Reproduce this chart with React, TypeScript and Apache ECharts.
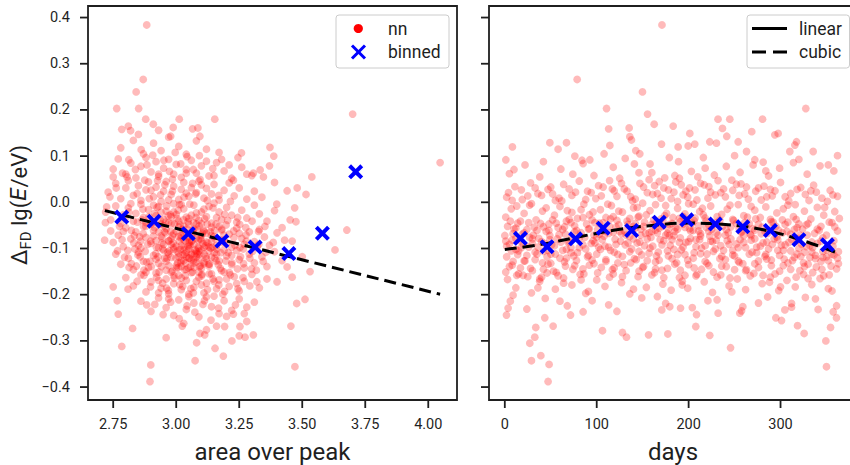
import React, { useEffect, useRef } from "react";
import * as echarts from "echarts";

// ---------- tick labels ----------
const areaTicks = [2.75, 3.0, 3.25, 3.5, 3.75, 4.0];
const dayTicks = [0, 100, 200, 300];
const devTicks = [-0.4, -0.3, -0.2, -0.1, 0, 0.1, 0.2, 0.3, 0.4];

// ---------- nn points: [area over peak, deviation] ----------
const nnArea: [number, number][] = [
  [2.78,0.118],[2.83,0.134],[2.87,0.105],[2.91,0.128],[2.94,0.112],[2.97,0.141],[3.01,0.121],[3.04,0.104],[3.08,0.133],[3.12,0.115],[2.85,0.147],[3.17,0.108],
  [2.75,0.072],[2.77,0.094],[2.80,0.061],[2.82,0.085],[2.84,0.053],[2.86,0.078],[2.88,0.097],[2.90,0.066],[2.92,0.088],[2.93,0.056],[2.95,0.074],[2.97,0.093],[2.99,0.061],[3.00,0.082],[3.02,0.054],[3.04,0.071],[3.06,0.091],[3.08,0.063],[3.10,0.079],[3.13,0.057],[3.16,0.086],[3.19,0.068],[3.22,0.052],[3.26,0.076],[3.30,0.058],
  [2.73,0.022],[2.76,0.041],[2.78,0.008],[2.80,0.031],[2.81,0.047],[2.83,0.015],[2.85,0.036],[2.86,0.004],[2.88,0.027],[2.89,0.044],[2.91,0.012],[2.92,0.033],[2.94,0.002],[2.95,0.024],[2.96,0.045],[2.98,0.017],[2.99,0.035],[3.01,0.006],[3.02,0.028],[3.03,0.043],[3.05,0.013],[3.06,0.032],[3.08,0.021],[3.09,0.046],[3.11,0.009],[3.12,0.030],[3.14,0.018],[3.15,0.039],[3.17,0.005],[3.19,0.026],[3.21,0.042],[3.23,0.014],[3.25,0.031],[3.28,0.007],[3.31,0.024],[3.34,0.011],[2.90,0.026],[2.97,0.005],[3.04,0.020],[3.10,0.038],
  [2.72,-0.021],[2.74,-0.038],[2.76,-0.008],[2.78,-0.046],[2.79,-0.027],[2.81,-0.012],[2.83,-0.041],[2.84,-0.024],[2.86,-0.004],[2.87,-0.033],[2.89,-0.016],[2.90,-0.047],[2.92,-0.029],[2.93,-0.009],[2.95,-0.037],[2.96,-0.019],[2.97,-0.044],[2.99,-0.003],[3.00,-0.026],[3.01,-0.041],[3.03,-0.014],[3.04,-0.032],[3.05,-0.048],[3.07,-0.006],[3.08,-0.023],[3.09,-0.039],[3.11,-0.015],[3.12,-0.031],[3.14,-0.045],[3.15,-0.002],[3.17,-0.021],[3.18,-0.037],[3.20,-0.011],[3.22,-0.028],[3.24,-0.043],[3.26,-0.017],[3.28,-0.034],[3.31,-0.006],[3.33,-0.025],[3.36,-0.041],[3.39,-0.018],[2.88,-0.044],[2.94,-0.022],[3.02,-0.005],[3.06,-0.028],[3.10,-0.046],[3.16,-0.033],[2.98,-0.031],[2.91,-0.006],[3.13,-0.009],
  [2.74,-0.062],[2.75,-0.087],[2.77,-0.071],[2.79,-0.096],[2.80,-0.055],[2.82,-0.079],[2.84,-0.064],[2.85,-0.093],[2.87,-0.052],[2.88,-0.076],[2.90,-0.089],[2.91,-0.061],[2.93,-0.098],[2.94,-0.073],[2.96,-0.057],[2.97,-0.084],[2.99,-0.068],[3.00,-0.095],[3.01,-0.053],[3.03,-0.081],[3.04,-0.066],[3.05,-0.092],[3.07,-0.058],[3.08,-0.077],[3.09,-0.099],[3.11,-0.063],[3.12,-0.086],[3.14,-0.054],[3.15,-0.074],[3.16,-0.094],[3.18,-0.061],[3.19,-0.083],[3.21,-0.069],[3.22,-0.097],[3.24,-0.056],[3.26,-0.078],[3.27,-0.091],[3.29,-0.064],[3.31,-0.085],[3.33,-0.059],[3.35,-0.075],[3.37,-0.093],[3.40,-0.066],[3.43,-0.082],[2.86,-0.099],[2.95,-0.051],[2.98,-0.091],[3.02,-0.072],[3.06,-0.085],[3.10,-0.072],[3.13,-0.097],[3.17,-0.052],[3.20,-0.088],[3.25,-0.067],[2.92,-0.083],
  [2.76,-0.112],[2.78,-0.134],[2.81,-0.121],[2.83,-0.146],[2.85,-0.108],[2.87,-0.128],[2.89,-0.141],[2.91,-0.115],[2.93,-0.132],[2.95,-0.104],[2.96,-0.147],[2.98,-0.119],[3.00,-0.137],[3.01,-0.110],[3.03,-0.126],[3.04,-0.145],[3.06,-0.113],[3.07,-0.131],[3.09,-0.106],[3.10,-0.143],[3.12,-0.122],[3.13,-0.138],[3.15,-0.109],[3.17,-0.127],[3.18,-0.148],[3.20,-0.116],[3.22,-0.135],[3.24,-0.104],[3.25,-0.124],[3.27,-0.142],[3.29,-0.112],[3.31,-0.131],[3.34,-0.118],[3.36,-0.139],[3.39,-0.107],[3.42,-0.126],[2.92,-0.123],[2.99,-0.102],[3.02,-0.139],[3.05,-0.121],[3.08,-0.118],[3.11,-0.129],[3.14,-0.119],[3.19,-0.103],[3.05,-0.101],
  [2.80,-0.163],[2.83,-0.181],[2.86,-0.157],[2.88,-0.194],[2.90,-0.172],[2.92,-0.153],[2.94,-0.186],[2.96,-0.166],[2.97,-0.198],[2.99,-0.176],[3.01,-0.158],[3.02,-0.189],[3.04,-0.169],[3.06,-0.152],[3.07,-0.184],[3.09,-0.163],[3.11,-0.196],[3.12,-0.175],[3.14,-0.155],[3.16,-0.187],[3.17,-0.168],[3.19,-0.151],[3.21,-0.182],[3.23,-0.161],[3.25,-0.192],[3.27,-0.171],[3.30,-0.156],[3.33,-0.185],[3.36,-0.166],[3.05,-0.199],[2.98,-0.151],[3.10,-0.179],[3.15,-0.171],[2.93,-0.169],[3.20,-0.166],
  [2.86,-0.214],[2.90,-0.236],[2.93,-0.207],[2.96,-0.228],[2.99,-0.245],[3.01,-0.211],[3.04,-0.232],[3.07,-0.218],[3.09,-0.248],[3.12,-0.205],[3.14,-0.226],[3.17,-0.241],[3.19,-0.213],[3.22,-0.234],[3.25,-0.209],[3.28,-0.227],[3.31,-0.216],[3.05,-0.204],[2.97,-0.209],[3.15,-0.203],
  [3.00,-0.063],[3.02,-0.094],[3.03,-0.052],[3.04,-0.108],[3.05,-0.075],[3.06,-0.124],[3.07,-0.091],[3.08,-0.047],[3.09,-0.113],[3.10,-0.082],[3.11,-0.133],[3.12,-0.067],[3.01,-0.118],[2.98,-0.079],[2.97,-0.112],[2.95,-0.091],[2.94,-0.047],[2.96,-0.128],[3.00,-0.142],[3.07,-0.141],[3.13,-0.105],[3.14,-0.085],[3.16,-0.112],[3.05,-0.035],[2.99,-0.021],[2.93,-0.064],[3.03,-0.097],[3.08,-0.106],[3.11,-0.097],[3.02,-0.126],
  [3.44,0.025],[3.47,-0.012],[3.39,0.043],[3.48,0.031],[3.42,-0.055],[3.46,-0.084],[3.50,-0.118],[3.37,0.079],[3.44,-0.140],[3.40,-0.172],[3.46,-0.162],
  [2.82,-0.003],[2.845,0.019],[2.868,-0.015],[2.893,0.008],[2.915,-0.024],[2.938,0.016],[2.962,-0.008],[2.985,0.024],[3.008,-0.017],[3.031,0.011],[3.054,-0.004],[3.077,0.018],[3.1,-0.021],[3.123,0.004],[3.146,-0.012],[3.169,0.015],[3.192,-0.026],[3.215,0.002],[2.875,0.048],[2.93,0.061],[2.985,0.05],[3.04,0.063],[3.095,0.049],[3.15,0.058],[2.805,0.055],[2.955,0.038],[3.065,0.041],
  [2.775,-0.052],[2.798,-0.034],[2.822,-0.061],[2.846,-0.043],[2.869,-0.068],[2.892,-0.031],[2.914,-0.055],[2.937,-0.039],[2.958,-0.066],[2.981,-0.046],[3.003,-0.035],[3.025,-0.059],[3.047,-0.042],[3.069,-0.069],[3.091,-0.051],[3.113,-0.036],[3.136,-0.064],[3.158,-0.047],[3.181,-0.058],[3.204,-0.039],[3.228,-0.062],[3.252,-0.048],[3.276,-0.055],[3.301,-0.041],[3.327,-0.063],[3.352,-0.052],
  [2.785,-0.081],[2.808,-0.104],[2.832,-0.088],[2.855,-0.075],[2.877,-0.106],[2.899,-0.084],[2.921,-0.097],[2.944,-0.077],[2.966,-0.108],[2.988,-0.088],[3.009,-0.074],[3.031,-0.103],[3.052,-0.086],[3.074,-0.111],[3.095,-0.079],[3.117,-0.094],[3.139,-0.072],[3.161,-0.101],[3.183,-0.087],[3.206,-0.109],[3.229,-0.076],[3.253,-0.098],[3.278,-0.084],[3.303,-0.106],[3.328,-0.091],[3.356,-0.108],[3.385,-0.087],
  [2.795,-0.119],[2.822,-0.133],[2.848,-0.114],[2.872,-0.147],[2.896,-0.128],[2.919,-0.111],[2.941,-0.139],[2.963,-0.121],[2.985,-0.149],[3.006,-0.131],[3.027,-0.114],[3.048,-0.142],[3.069,-0.125],[3.09,-0.151],[3.111,-0.112],[3.132,-0.134],[3.153,-0.121],[3.175,-0.143],[3.197,-0.127],[3.22,-0.115],[3.243,-0.144],[3.267,-0.133],[3.292,-0.121],[3.318,-0.147],[3.345,-0.128],
  [2.845,-0.171],[2.872,-0.158],[2.898,-0.183],[2.922,-0.162],[2.946,-0.175],[2.969,-0.191],[2.992,-0.164],[3.014,-0.178],[3.036,-0.159],[3.058,-0.187],[3.08,-0.171],[3.102,-0.156],[3.124,-0.189],[3.146,-0.166],[3.169,-0.179],[3.192,-0.193],[3.215,-0.157],[3.24,-0.176],[3.265,-0.163],[3.292,-0.181],[3.32,-0.172],
  [2.915,-0.221],[2.948,-0.243],[2.978,-0.216],[3.012,-0.252],[3.043,-0.224],[3.074,-0.238],[3.106,-0.221],[3.138,-0.255],[3.168,-0.229],[3.2,-0.247],[3.235,-0.222],[3.27,-0.241],[3.03,-0.262],[3.16,-0.268],
  [3.012,-0.084],[3.028,-0.067],[3.041,-0.118],[3.055,-0.093],[3.066,-0.061],[3.079,-0.129],[3.088,-0.082],[3.1,-0.104],[3.018,-0.131],[3.034,-0.146],[3.06,-0.109],[3.084,-0.058],[2.99,-0.098],[2.978,-0.063],[3.118,-0.117],[3.126,-0.088],[3.046,-0.077],[2.97,-0.137],[3.093,-0.139],[3.015,-0.049],
  [2.762,0.031],[2.787,0.063],[2.812,0.092],[2.838,0.071],[2.861,0.114],[2.884,0.081],[2.907,0.102],[2.926,0.047],[2.951,0.091],[2.973,0.067],[2.996,0.108],[3.018,0.083],[3.043,0.099],[3.068,0.071],[3.092,0.101],[3.12,0.089],[3.145,0.073],[3.18,0.093],[3.21,0.081],[3.245,0.097],
  [2.812,-0.021],[2.834,-0.072],[2.857,-0.118],[2.879,-0.052],[2.901,-0.139],[2.924,-0.011],[2.946,-0.101],[2.968,-0.029],[2.991,-0.159],[3.013,-0.005],[3.035,-0.083],[3.057,-0.139],[3.079,-0.033],[3.101,-0.159],[3.123,-0.047],[3.145,-0.097],[3.167,-0.135],[3.189,-0.071],[3.211,-0.152],[3.233,-0.093],[3.255,-0.118],[3.277,-0.071],[3.299,-0.144],[3.322,-0.095],[2.842,-0.138],[2.865,-0.038],[2.887,-0.091],[2.909,-0.073],[2.932,-0.151],[2.954,-0.121],[2.977,-0.027],[2.999,-0.121],[3.021,-0.164],[3.043,-0.058],[3.065,-0.151],[3.087,-0.097],[3.109,-0.061],[3.131,-0.155],[3.154,-0.079],[3.176,-0.109],[3.198,-0.049],[3.221,-0.131],[3.244,-0.033],[3.266,-0.101],[2.953,-0.064],[2.971,-0.083],[2.993,-0.047],[3.016,-0.102],[3.038,-0.131],[3.061,-0.071],[3.083,-0.112],[3.106,-0.089],[3.129,-0.134],[3.152,-0.061],[2.928,-0.118],[2.905,-0.044],[2.882,-0.129],[2.859,-0.084],[2.836,-0.101],[2.813,-0.141],[2.79,-0.063],[2.767,-0.105],[3.026,-0.182],[3.068,-0.196],[3.112,-0.213],[2.962,-0.186],[3.185,-0.199],[2.93,-0.196],[3.245,-0.187],[2.88,-0.151],
  [3.003,-0.106],[3.019,-0.077],[3.033,-0.112],[3.047,-0.095],[3.062,-0.083],[3.075,-0.103],[3.091,-0.121],[3.104,-0.067],[2.985,-0.072],[2.973,-0.105],[3.008,-0.141],[3.052,-0.121],[3.097,-0.137],[3.069,-0.044],[3.029,-0.038],[2.958,-0.043],[2.944,-0.088],[3.137,-0.099],[3.158,-0.127],[3.181,-0.082],
  [2.883,0.384],[2.869,0.266],[2.841,0.239],[2.764,0.203],[2.851,0.203],[3.700,0.191],[3.153,0.180],[3.012,0.180],[2.879,0.180],[4.047,0.086],[2.784,0.158],[2.819,0.155],[2.810,0.165],[2.909,0.169],[2.930,0.156],[2.988,0.162],[3.065,0.159],[3.086,0.161],[3.094,0.143],[2.978,0.143],[3.372,0.119],[3.387,0.100],[3.259,0.107],[3.538,0.055],[3.515,0.017],[3.452,-0.038],[3.475,-0.042],[3.677,-0.060],[3.333,0.070],[3.346,0.055],[3.399,-0.004],[3.227,0.048],[3.280,0.061],[3.306,0.063],[2.750,0.055],[2.737,0.012],[2.724,-0.010],
  [2.896,-0.388],[2.899,-0.352],[3.471,-0.356],[3.075,-0.343],[2.784,-0.312],[3.187,-0.333],[3.154,-0.316],[2.960,-0.293],[2.827,-0.273],[3.455,-0.268],[3.024,-0.268],[2.770,-0.242],[2.766,-0.213],[2.883,-0.222],[3.094,-0.284],[3.120,-0.276],[3.081,-0.304],[3.306,-0.287],[3.273,-0.292],[3.250,-0.289],[3.253,-0.269],[3.280,-0.258],[3.227,-0.242],[3.511,-0.210],[3.478,-0.219],[3.531,-0.150],[3.630,-0.103],[2.750,-0.183],[3.113,-0.287],[3.221,-0.300],[3.192,-0.269],[2.809,-0.188],[2.716,-0.082],[2.719,-0.044]
];

// ---------- nn points: [days, deviation] ----------
const nnDays: [number, number][] = [
  [5,0.062],[22,0.081],[38,0.055],[61,0.072],[84,0.091],[97,0.058],[118,0.076],[131,0.095],[146,0.064],[158,0.083],[174,0.053],[189,0.088],[203,0.067],[216,0.097],[228,0.059],[241,0.078],[256,0.065],[272,0.092],[287,0.057],[299,0.074],[314,0.086],[329,0.061],[343,0.079],[358,0.068],[125,0.052],
  [2,0.011],[11,0.034],[19,0.006],[28,0.042],[36,0.019],[47,0.028],[55,0.004],[64,0.039],[73,0.015],[81,0.046],[90,0.024],[99,0.008],[107,0.033],[114,0.047],[122,0.013],[130,0.029],[139,0.003],[147,0.041],[155,0.021],[163,0.036],[170,0.009],[178,0.027],[186,0.044],[194,0.016],[201,0.031],[209,0.005],[217,0.038],[224,0.022],[232,0.047],[240,0.012],[248,0.026],[257,0.040],[265,0.007],[273,0.024],[282,0.035],[291,0.014],[300,0.043],[309,0.003],[318,0.028],[327,0.017],[336,0.037],[345,0.009],[354,0.026],[362,0.013],[188,0.002],
  [1,-0.032],[7,-0.014],[14,-0.045],[21,-0.024],[27,-0.006],[34,-0.038],[41,-0.019],[48,-0.047],[54,-0.028],[60,-0.009],[67,-0.041],[73,-0.022],[79,-0.035],[86,-0.004],[92,-0.027],[98,-0.044],[104,-0.016],[110,-0.033],[116,-0.007],[122,-0.039],[128,-0.021],[134,-0.048],[140,-0.012],[146,-0.030],[152,-0.043],[158,-0.018],[164,-0.005],[170,-0.036],[176,-0.024],[182,-0.046],[188,-0.013],[194,-0.031],[200,-0.003],[206,-0.040],[212,-0.020],[218,-0.034],[224,-0.008],[230,-0.044],[236,-0.026],[242,-0.015],[248,-0.037],[254,-0.005],[260,-0.029],[266,-0.046],[272,-0.017],[278,-0.033],[284,-0.010],[290,-0.042],[296,-0.023],[302,-0.038],[308,-0.006],[314,-0.031],[320,-0.047],[326,-0.019],[333,-0.036],[340,-0.011],[347,-0.028],[353,-0.043],[359,-0.020],[364,-0.035],
  [0,-0.072],[5,-0.091],[10,-0.058],[16,-0.083],[21,-0.066],[26,-0.097],[32,-0.054],[37,-0.078],[43,-0.089],[48,-0.061],[54,-0.094],[59,-0.070],[65,-0.053],[70,-0.085],[76,-0.064],[81,-0.098],[87,-0.076],[92,-0.057],[98,-0.088],[103,-0.069],[109,-0.095],[114,-0.052],[120,-0.080],[125,-0.063],[131,-0.092],[136,-0.074],[142,-0.056],[147,-0.086],[153,-0.067],[158,-0.099],[164,-0.060],[169,-0.081],[175,-0.071],[180,-0.093],[186,-0.055],[191,-0.077],[197,-0.087],[202,-0.062],[208,-0.096],[213,-0.073],[219,-0.054],[224,-0.084],[230,-0.066],[235,-0.094],[241,-0.059],[246,-0.079],[252,-0.090],[257,-0.065],[263,-0.052],[268,-0.082],[274,-0.097],[279,-0.068],[285,-0.086],[290,-0.057],[296,-0.075],[301,-0.093],[307,-0.063],[312,-0.080],[318,-0.055],[323,-0.091],[329,-0.071],[334,-0.086],[340,-0.058],[346,-0.077],[357,-0.095],
  [2,-0.118],[8,-0.136],[15,-0.105],[22,-0.127],[28,-0.143],[35,-0.112],[41,-0.131],[47,-0.104],[53,-0.149],[60,-0.121],[66,-0.138],[72,-0.109],[78,-0.126],[85,-0.144],[91,-0.115],[97,-0.133],[104,-0.102],[110,-0.128],[117,-0.146],[123,-0.113],[130,-0.135],[136,-0.107],[143,-0.124],[150,-0.141],[157,-0.110],[164,-0.129],[171,-0.147],[178,-0.116],[185,-0.134],[192,-0.103],[199,-0.125],[206,-0.142],[213,-0.111],[220,-0.132],[227,-0.106],[234,-0.122],[241,-0.139],[248,-0.114],[255,-0.130],[262,-0.148],[269,-0.108],[276,-0.127],[283,-0.117],[290,-0.137],[297,-0.104],[304,-0.123],[311,-0.145],[318,-0.112],[325,-0.131],[332,-0.119],[339,-0.140],[346,-0.106],[352,-0.126],[358,-0.114],[363,-0.133],
  [3,-0.167],[12,-0.185],[20,-0.158],[29,-0.196],[38,-0.171],[46,-0.153],[55,-0.188],[64,-0.164],[73,-0.179],[82,-0.156],[91,-0.193],[100,-0.168],[109,-0.182],[118,-0.155],[127,-0.174],[136,-0.198],[145,-0.161],[154,-0.184],[163,-0.152],[172,-0.177],[181,-0.190],[190,-0.163],[199,-0.186],[208,-0.159],[217,-0.172],[226,-0.195],[235,-0.157],[244,-0.181],[253,-0.166],[262,-0.189],[271,-0.154],[280,-0.176],[289,-0.162],[298,-0.191],[307,-0.169],[316,-0.183],[325,-0.156],[334,-0.178],[343,-0.165],[352,-0.187],
  [6,-0.214],[24,-0.231],[44,-0.208],[68,-0.224],[95,-0.213],[122,-0.236],[149,-0.207],[175,-0.219],[204,-0.228],[231,-0.211],[259,-0.226],[286,-0.205],[312,-0.219],[338,-0.209],[361,-0.224],
  [160,-0.048],[166,-0.066],[172,-0.040],[178,-0.058],[184,-0.072],[190,-0.035],[196,-0.054],[204,-0.045],[211,-0.062],[148,-0.071],[140,-0.052],[222,-0.049],[230,-0.082],[118,-0.065],[100,-0.075],[260,-0.072],[272,-0.060],[320,-0.100],[335,-0.098],[350,-0.118],[30,-0.089],[12,-0.102],[50,-0.112],[72,-0.098],[345,-0.145],[330,-0.165],[15,-0.155],[40,-0.162],
  [4,0.021],[13,-0.008],[25,0.014],[33,0.031],[45,-0.012],[52,0.018],[62,0.003],[70,0.029],[83,-0.016],[94,0.021],[102,0.036],[112,-0.004],[119,0.025],[127,0.041],[137,0.012],[144,-0.011],[151,0.033],[161,0.017],[168,0.045],[175,-0.007],[184,0.022],[192,0.038],[199,0.011],[207,0.027],[215,-0.013],[222,0.034],[229,0.016],[238,0.029],[245,-0.006],[252,0.039],[261,0.018],[268,-0.009],[276,0.031],[285,0.012],[294,0.025],[303,-0.014],[311,0.019],[322,0.032],[331,0.004],[339,0.022],[348,-0.011],[357,0.016],[185,0.058],[160,0.064],[210,0.055],
  [3,-0.052],[9,-0.068],[17,-0.041],[24,-0.059],[31,-0.071],[39,-0.046],[45,-0.063],[52,-0.038],[58,-0.055],[66,-0.069],[72,-0.044],[78,-0.061],[85,-0.033],[91,-0.058],[97,-0.071],[103,-0.045],[108,-0.062],[115,-0.036],[121,-0.054],[127,-0.068],[133,-0.041],[139,-0.059],[145,-0.032],[151,-0.052],[157,-0.066],[162,-0.038],[168,-0.056],[174,-0.029],[179,-0.048],[185,-0.063],[191,-0.042],[196,-0.025],[201,-0.057],[207,-0.034],[213,-0.068],[219,-0.041],[225,-0.058],[231,-0.031],[237,-0.052],[243,-0.066],[249,-0.039],[255,-0.057],[261,-0.044],[267,-0.069],[273,-0.036],[280,-0.054],[286,-0.067],[292,-0.043],[298,-0.061],[305,-0.048],[311,-0.069],[317,-0.037],[324,-0.058],[330,-0.046],[337,-0.067],[344,-0.052],[350,-0.071],[356,-0.044],[362,-0.062],
  [2,-0.095],[8,-0.082],[14,-0.113],[20,-0.091],[27,-0.076],[33,-0.108],[40,-0.085],[46,-0.118],[51,-0.092],[57,-0.079],[63,-0.104],[69,-0.087],[75,-0.116],[81,-0.078],[88,-0.101],[94,-0.089],[100,-0.112],[106,-0.081],[113,-0.097],[119,-0.108],[126,-0.084],[132,-0.071],[138,-0.101],[144,-0.088],[149,-0.114],[155,-0.079],[161,-0.095],[167,-0.108],[173,-0.083],[179,-0.072],[184,-0.102],[190,-0.087],[196,-0.113],[202,-0.078],[208,-0.081],[214,-0.099],[220,-0.112],[226,-0.085],[232,-0.071],[238,-0.104],[244,-0.091],[250,-0.116],[256,-0.081],[262,-0.098],[268,-0.072],[274,-0.109],[281,-0.088],[287,-0.101],[293,-0.079],[299,-0.115],[305,-0.092],[311,-0.105],[317,-0.084],[322,-0.117],[328,-0.096],[334,-0.108],[340,-0.089],[346,-0.119],[352,-0.098],[358,-0.083],[363,-0.107],
  [5,-0.139],[13,-0.158],[21,-0.127],[30,-0.148],[38,-0.166],[47,-0.134],[56,-0.152],[65,-0.129],[74,-0.145],[83,-0.168],[92,-0.136],[101,-0.153],[110,-0.124],[119,-0.142],[128,-0.161],[137,-0.131],[146,-0.149],[155,-0.126],[164,-0.144],[173,-0.163],[182,-0.122],[191,-0.147],[200,-0.135],[209,-0.156],[218,-0.128],[227,-0.151],[236,-0.138],[245,-0.164],[254,-0.127],[263,-0.146],[272,-0.133],[281,-0.158],[290,-0.125],[299,-0.149],[308,-0.131],[317,-0.162],[326,-0.139],[335,-0.152],[344,-0.128],[353,-0.157],[361,-0.144],
  [10,0.071],[42,0.088],[74,0.061],[108,0.105],[141,0.083],[179,0.097],[218,0.074],[250,0.101],[284,0.068],[320,0.093],[352,0.081],
  [9,-0.201],[36,-0.185],[60,-0.214],[88,-0.197],[113,-0.222],[140,-0.188],[166,-0.204],[193,-0.179],[221,-0.213],[247,-0.194],[276,-0.218],[300,-0.183],[327,-0.206],[356,-0.192],
  [8,0.004],[18,0.027],[29,-0.003],[40,0.015],[50,0.033],[59,0.009],[68,-0.018],[77,0.022],[88,0.006],[96,-0.021],[105,0.014],[117,0.029],[124,-0.019],[133,0.024],[142,0.007],[150,-0.002],[157,0.049],[166,0.019],[173,0.031],[181,0.008],[190,0.052],[197,0.024],[205,-0.004],[213,0.041],[221,0.009],[235,0.021],[247,0.048],[255,0.015],[263,0.033],[279,0.005],[289,0.028],[305,0.012],[316,-0.005],[333,0.025],[351,0.002],
  [6,-0.041],[12,-0.056],[19,-0.069],[26,-0.044],[35,-0.061],[42,-0.053],[49,-0.072],[56,-0.045],[63,-0.059],[70,-0.037],[76,-0.051],[83,-0.066],[89,-0.047],[95,-0.038],[101,-0.059],[107,-0.044],[113,-0.067],[118,-0.031],[124,-0.049],[130,-0.062],[136,-0.035],[142,-0.046],[148,-0.058],[154,-0.027],[160,-0.063],[165,-0.044],[171,-0.052],[177,-0.067],[183,-0.033],[188,-0.058],[194,-0.047],[199,-0.038],[205,-0.061],[211,-0.051],[216,-0.027],[222,-0.063],[228,-0.049],[234,-0.039],[240,-0.071],[246,-0.053],[252,-0.046],[258,-0.064],[264,-0.032],[270,-0.057],[276,-0.048],[283,-0.063],[289,-0.037],[295,-0.052],[302,-0.066],[308,-0.043],[315,-0.059],[321,-0.071],[328,-0.049],[342,-0.061],[359,-0.053],
  [1,-0.084],[7,-0.105],[12,-0.078],[18,-0.098],[24,-0.115],[30,-0.079],[36,-0.097],[42,-0.106],[49,-0.081],[55,-0.112],[61,-0.086],[67,-0.102],[73,-0.076],[79,-0.109],[85,-0.092],[90,-0.118],[96,-0.083],[102,-0.097],[108,-0.073],[115,-0.104],[121,-0.091],[128,-0.117],[134,-0.088],[140,-0.079],[146,-0.106],[152,-0.094],[159,-0.076],[165,-0.116],[171,-0.092],[177,-0.105],[182,-0.081],[188,-0.113],[194,-0.097],[200,-0.085],[206,-0.109],[212,-0.081],[218,-0.094],[223,-0.073],[229,-0.101],[236,-0.117],[242,-0.083],[248,-0.104],[254,-0.098],[260,-0.087],[266,-0.112],[272,-0.079],[278,-0.095],[284,-0.113],[291,-0.091],[297,-0.081],[303,-0.104],[309,-0.087],[315,-0.119],[320,-0.078],[326,-0.108],[332,-0.094],[338,-0.115],[344,-0.084],[350,-0.103],[356,-0.112],
  [1,-0.151],[9,-0.128],[17,-0.142],[25,-0.161],[33,-0.124],[42,-0.145],[50,-0.132],[58,-0.159],[67,-0.121],[76,-0.137],[86,-0.155],[95,-0.125],[105,-0.141],[114,-0.162],[123,-0.131],[132,-0.148],[141,-0.122],[151,-0.139],[160,-0.157],[168,-0.125],[177,-0.143],[187,-0.131],[196,-0.158],[205,-0.121],[214,-0.145],[222,-0.137],[231,-0.162],[240,-0.124],[250,-0.146],[259,-0.133],[267,-0.159],[276,-0.141],[285,-0.123],[294,-0.155],[303,-0.137],[313,-0.126],[321,-0.148],[330,-0.134],[338,-0.122],[347,-0.159],[355,-0.138],[362,-0.121],[64,-0.175],[193,-0.171],[288,-0.173],
  [171,0.384],[78.7,0.266],[149.8,0.239],[110.7,0.203],[327.5,0.203],[155.3,0.191],[113,0.159],[135.3,0.161],[162.5,0.169],[183.2,0.165],[232,0.180],[244.8,0.180],[280.4,0.180],[236.8,0.160],[241.5,0.143],[268.7,0.153],[293.8,0.146],[297.4,0.149],[201.3,0.149],[136,0.142],[137.8,0.135],[8.3,0.120],[1.1,0.092],[49,0.129],[67.1,0.129],[58,0.115],[114.3,0.123],[170.5,0.126],[199.5,0.122],[206.7,0.126],[188.6,0.120],[223,0.131],[230.3,0.128],[253.9,0.131],[263,0.110],[270.2,0.081],[281.1,0.087],[317.4,0.131],[315.6,0.124],[310.1,0.110],[335.5,0.110],[362,0.101],[76.2,0.100],[85.2,0.084],[92.5,0.092],[142.5,0.112],[146.9,0.105],
  [47.1,-0.388],[29,-0.343],[39.2,-0.332],[48.2,-0.351],[350,-0.356],[245.6,-0.315],[27.2,-0.305],[32.6,-0.292],[33.7,-0.271],[52.6,-0.268],[106.3,-0.278],[128,-0.282],[132.4,-0.292],[156.4,-0.287],[177.4,-0.285],[207.8,-0.269],[208.6,-0.243],[223,-0.288],[325.7,-0.284],[318.5,-0.267],[349.3,-0.300],[354.4,-0.271],[360.9,-0.250],[357.3,-0.237],[294.9,-0.250],[301.1,-0.256],[232.1,-0.240],[1.8,-0.244],[3.6,-0.229],[43.5,-0.250],[71.5,-0.244],[85.2,-0.237],[170.8,-0.233],[179.5,-0.226],[191.2,-0.229],[255.7,-0.240],[257.6,-0.235],[304.7,-0.233],[312,-0.227],[340.9,-0.232]
];

// ---------- binned means ----------
const binnedArea = [2.784, 2.912, 3.048, 3.181, 3.313, 3.447, 3.58, 3.712];
const binnedAreaDev = [-0.032, -0.041, -0.068, -0.084, -0.097, -0.111, -0.067, 0.066];
const binnedDays = [17, 46, 77, 107, 138, 168, 198, 229, 259, 289, 320, 351];
const binnedDaysDev = [-0.078, -0.096, -0.079, -0.056, -0.061, -0.043, -0.038, -0.047, -0.053, -0.061, -0.081, -0.092];

// ---------- fits ----------
const fitArea = [2.717, 4.047];
const fitAreaDev = [-0.018, -0.199];
const cubicDays = [0, 40, 80, 120, 160, 200, 240, 280, 320, 365];
const cubicDev = [-0.102, -0.091, -0.075, -0.060, -0.050, -0.045, -0.048, -0.059, -0.080, -0.112];

// ---------- axis ranges ----------
const areaRange = [2.65, 4.114];
const dayRange = [-17.2, 383.2];
const devRange = [-0.428, 0.425];

const FONT = "Roboto";
const INK = "#1f1f1f";
const TICK_LEN = 8;
const X_PATH =
  "path://M0,19L19,0L50,31L81,0L100,19L69,50L100,81L81,100L50,69L19,100L0,81L31,50Z";

const fmtDev = (v: number) => {
  const r = Math.round(v * 10) / 10;
  if (Math.abs(r) < 1e-9) return "0.0";
  return (r < 0 ? "\u2212" : "") + Math.abs(r).toFixed(1);
};

// outward tick marks drawn through the axes' own scales
const xTickSeries = (axisIndex: number, ticks: number[]) => ({
  type: "custom",
  xAxisIndex: axisIndex,
  yAxisIndex: axisIndex,
  clip: false,
  silent: true,
  z: 6,
  data: ticks.map((t) => [t, devRange[0]]),
  renderItem: (_p: any, api: any) => {
    const p = api.coord([api.value(0), api.value(1)]);
    return {
      type: "line",
      shape: { x1: p[0], y1: p[1], x2: p[0], y2: p[1] + TICK_LEN },
      style: { stroke: INK, lineWidth: 1.8 },
    };
  },
});
const yTickSeries = (axisIndex: number, xMin: number) => ({
  type: "custom",
  xAxisIndex: axisIndex,
  yAxisIndex: axisIndex,
  clip: false,
  silent: true,
  z: 6,
  data: devTicks.map((t) => [xMin, t]),
  renderItem: (_p: any, api: any) => {
    const p = api.coord([api.value(0), api.value(1)]);
    return {
      type: "line",
      shape: { x1: p[0] - TICK_LEN, y1: p[1], x2: p[0], y2: p[1] },
      style: { stroke: INK, lineWidth: 1.8 },
    };
  },
});

export default function App() {
  const ref = useRef<HTMLDivElement>(null);
  useEffect(() => {
    if (!ref.current) return;
    const chart = echarts.init(ref.current, undefined, { renderer: "svg" });

    const axisLine = { show: false, onZero: false };
    const xAxisCommon = {
      type: "value" as const,
      axisLine,
      axisTick: { show: false },
      splitLine: { show: false },
      nameLocation: "middle" as const,
      nameGap: 40,
      nameTextStyle: { fontFamily: FONT, fontSize: 24, color: INK },
    };
    const labelCommon = { fontFamily: FONT, fontSize: 14.5, color: INK };

    const dotStyle = { color: "#ff0000", opacity: 0.27 };
    const gridCommon = {
      top: 6,
      height: 394,
      show: true,
      borderColor: INK,
      borderWidth: 1.8,
      backgroundColor: "transparent",
      containLabel: false,
      outerBoundsMode: "none",
    };

    const option: any = {
      animation: false,
      backgroundColor: "#ffffff",
      textStyle: { fontFamily: FONT },
      grid: [
        { ...gridCommon, left: 88, width: 369 },
        { ...gridCommon, left: 489, width: 368 },
      ],
      xAxis: [
        {
          ...xAxisCommon,
          gridIndex: 0,
          min: areaRange[0],
          max: areaRange[1],
          name: "area over peak",
          axisLabel: {
            ...labelCommon,
            customValues: areaTicks,
            formatter: (v: number) => v.toFixed(2),
            margin: 17,
          },
        },
        {
          ...xAxisCommon,
          gridIndex: 1,
          min: dayRange[0],
          max: dayRange[1],
          name: "days",
          axisLabel: {
            ...labelCommon,
            customValues: dayTicks,
            formatter: (v: number) => String(Math.round(v)),
            margin: 17,
          },
        },
      ],
      yAxis: [
        {
          type: "value",
          gridIndex: 0,
          min: devRange[0],
          max: devRange[1],
          axisLine,
          axisTick: { show: false },
          splitLine: { show: false },
          axisLabel: { ...labelCommon, customValues: devTicks, formatter: fmtDev, margin: 18 },
        },
        {
          type: "value",
          gridIndex: 1,
          min: devRange[0],
          max: devRange[1],
          axisLine,
          axisTick: { show: false },
          splitLine: { show: false },
          axisLabel: { show: false },
        },
      ],
      series: [
        {
          name: "nn",
          type: "scatter",
          xAxisIndex: 0,
          yAxisIndex: 0,
          data: nnArea,
          symbol: "circle",
          symbolSize: 7.8,
          itemStyle: dotStyle,
          z: 2,
        },
        {
          name: "fit",
          type: "line",
          xAxisIndex: 0,
          yAxisIndex: 0,
          data: fitArea.map((x, i) => [x, fitAreaDev[i]]),
          showSymbol: false,
          symbol: "none",
          lineStyle: { color: "#000000", width: 3, type: [12, 6] },
          z: 3,
        },
        {
          name: "binned",
          type: "scatter",
          xAxisIndex: 0,
          yAxisIndex: 0,
          data: binnedArea.map((x, i) => [x, binnedAreaDev[i]]),
          symbol: X_PATH,
          symbolSize: 15,
          itemStyle: { color: "#0000ff", opacity: 1 },
          z: 4,
        },
        {
          name: "nn ",
          type: "scatter",
          xAxisIndex: 1,
          yAxisIndex: 1,
          data: nnDays,
          symbol: "circle",
          symbolSize: 7.8,
          itemStyle: dotStyle,
          z: 2,
        },
        {
          name: "cubic",
          type: "line",
          xAxisIndex: 1,
          yAxisIndex: 1,
          data: cubicDays.map((d, i) => [d, cubicDev[i]]),
          showSymbol: false,
          symbol: "none",
          smooth: 0.4,
          lineStyle: { color: "#000000", width: 3, type: [12, 6] },
          z: 3,
        },
        {
          name: "binned ",
          type: "scatter",
          xAxisIndex: 1,
          yAxisIndex: 1,
          data: binnedDays.map((d, i) => [d, binnedDaysDev[i]]),
          symbol: X_PATH,
          symbolSize: 15,
          itemStyle: { color: "#0000ff", opacity: 1 },
          z: 4,
        },
        xTickSeries(0, areaTicks),
        xTickSeries(1, dayTicks),
        yTickSeries(0, areaRange[0]),
        yTickSeries(1, dayRange[0]),
      ],
      graphic: [
        {
          type: "text",
          x: 19,
          y: 205,
          rotation: Math.PI / 2,
          style: {
            text: "{d|Δ}{s|FD}{n| lg(}{i|E}{n|/eV)}",
            align: "center",
            verticalAlign: "middle",
            fill: INK,
            rich: {
              d: { fontFamily: FONT, fontSize: 22, lineHeight: 28, fill: INK },
              s: { fontFamily: FONT, fontSize: 15, lineHeight: 28, verticalAlign: "bottom", fill: INK },
              n: { fontFamily: FONT, fontSize: 22, lineHeight: 28, fill: INK },
              i: { fontFamily: "DejaVu Sans", fontStyle: "italic", fontSize: 21, lineHeight: 28, fill: INK },
            },
          },
          z: 10,
        },
        {
          type: "rect",
          shape: { x: 336, y: 15, width: 113, height: 53, r: 3 },
          style: { fill: "rgba(255,255,255,0.85)", stroke: "#cccccc", lineWidth: 1 },
          z: 10,
        },
        {
          type: "circle",
          shape: { cx: 358.3, cy: 28.5, r: 4.6 },
          style: { fill: "#ff0000" },
          z: 11,
        },
        {
          type: "text",
          x: 388,
          y: 28.5,
          style: { text: "nn", fontFamily: FONT, fontSize: 17.5, fill: INK, verticalAlign: "middle" },
          z: 11,
        },
        {
          type: "line",
          shape: { x1: 352, y1: 45.5, x2: 365, y2: 58.5 },
          style: { stroke: "#0000ff", lineWidth: 3 },
          z: 11,
        },
        {
          type: "line",
          shape: { x1: 365, y1: 45.5, x2: 352, y2: 58.5 },
          style: { stroke: "#0000ff", lineWidth: 3 },
          z: 11,
        },
        {
          type: "text",
          x: 388,
          y: 52,
          style: { text: "binned", fontFamily: FONT, fontSize: 17.5, fill: INK, verticalAlign: "middle" },
          z: 11,
        },
        {
          type: "rect",
          shape: { x: 747, y: 15, width: 102.5, height: 53, r: 3 },
          style: { fill: "rgba(255,255,255,0.85)", stroke: "#cccccc", lineWidth: 1 },
          z: 10,
        },
        {
          type: "line",
          shape: { x1: 752, y1: 28.5, x2: 787, y2: 28.5 },
          style: { stroke: "#000000", lineWidth: 3 },
          z: 11,
        },
        {
          type: "text",
          x: 799,
          y: 28.5,
          style: { text: "linear", fontFamily: FONT, fontSize: 17.5, fill: INK, verticalAlign: "middle" },
          z: 11,
        },
        {
          type: "line",
          shape: { x1: 752, y1: 52, x2: 787, y2: 52 },
          style: { stroke: "#000000", lineWidth: 3, lineDash: [14, 7] },
          z: 11,
        },
        {
          type: "text",
          x: 799,
          y: 52,
          style: { text: "cubic", fontFamily: FONT, fontSize: 17.5, fill: INK, verticalAlign: "middle" },
          z: 11,
        },
      ],
    };

    chart.setOption(option);
    return () => chart.dispose();
  }, []);

  return (
    <div
      ref={ref}
      style={{ position: "fixed", left: 0, top: 0, width: 850, height: 465, background: "#fff" }}
    />
  );
}
